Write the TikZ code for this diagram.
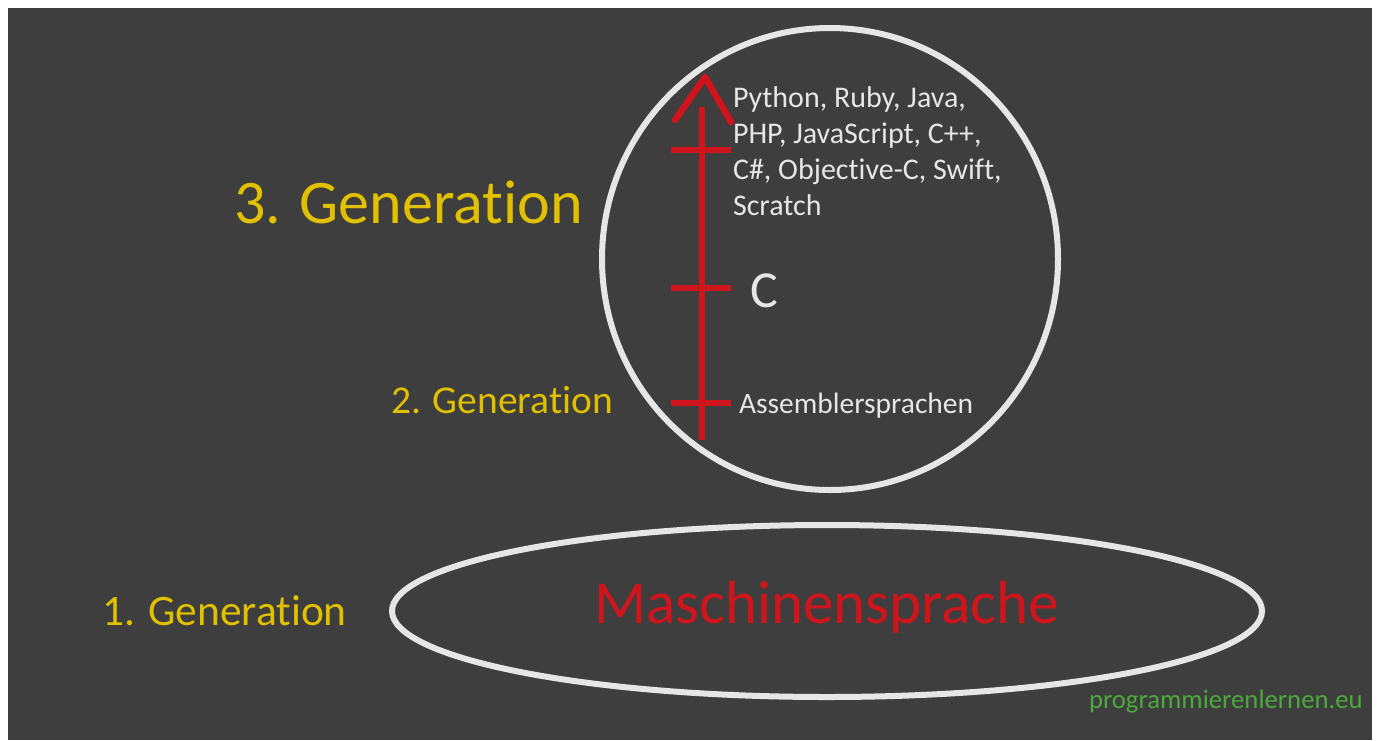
\documentclass[tikz,border=0pt]{standalone}
\usepackage{fontspec}
\setmainfont{Carlito}[Ligatures=NoCommon]
\definecolor{bg}{HTML}{3E3E3E}
\definecolor{gelb}{HTML}{E0C000}
\definecolor{rot}{HTML}{D0141C}
\definecolor{weiss}{HTML}{E6E6E6}
\definecolor{gruen}{HTML}{4CAA3C}
\tikzset{
  lbl/.style={inner sep=0pt, outer sep=0pt, anchor=base west},
  gen/.style={lbl, text=gelb},
  lang/.style={lbl, text=weiss},
  ring/.style={draw=weiss, line width=6pt},
  redline/.style={draw=rot, line width=6.5pt},
}
\begin{document}
\begin{tikzpicture}[x=1pt,y=-1pt]
\useasboundingbox (0,0) rectangle (1380,740);
\fill[white] (0,0) rectangle (1380,740);
\fill[bg] (8,8) rectangle (1372,740);
% rings
\draw[ring] (830,259) ellipse [x radius=228, y radius=231];
\draw[ring] (827,611) ellipse [x radius=435, y radius=86];
% timeline
\coordinate (top) at (702,107);
\coordinate (bot) at (702,440);
\coordinate (apex) at (705,77);
\coordinate (hl) at (675,120);
\coordinate (hr) at (731,122);
\draw[redline] (top) -- (bot);
\draw[redline, line cap=round, line join=round] (hl) -- (apex) -- (hr);
\coordinate (t1l) at (671,150); \coordinate (t1r) at (731,150);
\coordinate (t2l) at (671,288); \coordinate (t2r) at (731,288);
\coordinate (t3l) at (671,403); \coordinate (t3r) at (731,403);
\draw[redline] (t1l) -- (t1r);
\draw[redline] (t2l) -- (t2r);
\draw[redline] (t3l) -- (t3r);
% texts
\node[gen, font=\fontsize{62}{62}\selectfont] (g3) at (234,223) {3. Generation};
\node[gen, font=\fontsize{39.5}{40}\selectfont] (g2) at (391,413) {2. Generation};
\node[gen, font=\fontsize{43.5}{44}\selectfont] (g1) at (102,625) {1. Generation};
\node[lbl, text=rot, font=\fontsize{61}{61}\selectfont] (ms) at (594,623) {Maschinensprache};
\node[lang, font=\fontsize{30}{36}\selectfont, align=left] (hl3) at (733,215) {Python, Ruby, Java,\\PHP, JavaScript, C++,\\C\#, Objective-C, Swift,\\Scratch};
\node[lang, font=\fontsize{52}{52}\selectfont] (c) at (750,307) {C};
\node[lang, font=\fontsize{29.5}{30}\selectfont] (asm) at (739,413) {Assemblersprachen};
\node[lbl, text=gruen, font=\fontsize{26.7}{27}\selectfont] (web) at (1089,708) {programmierenlernen.eu};
\end{tikzpicture}
\end{document}
